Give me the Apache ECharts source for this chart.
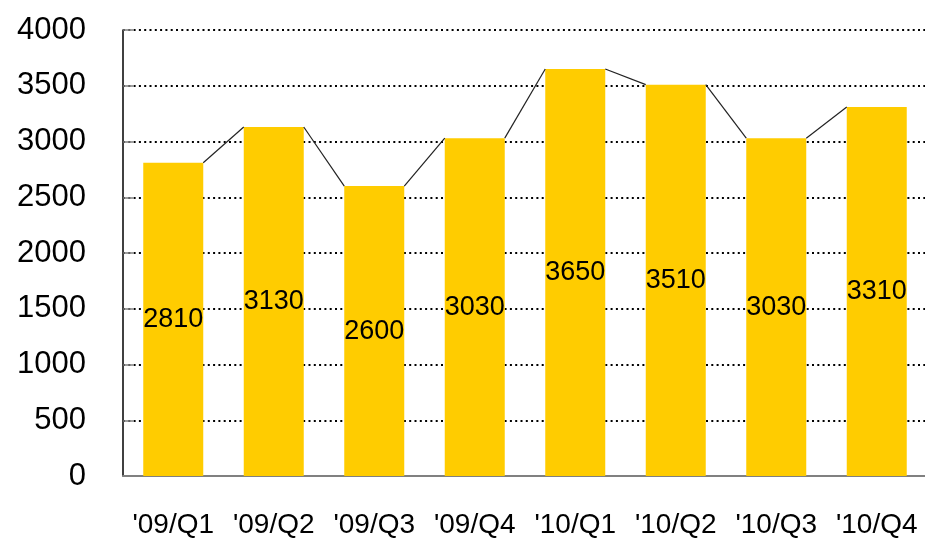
<!DOCTYPE html>
<html>
<head>
<meta charset="utf-8">
<script src="https://cdn.jsdelivr.net/npm/echarts@6/dist/echarts.min.js"></script>
<style>
  html, body { margin: 0; padding: 0; background: #fff; }
  #chart { width: 925px; height: 543px; }
</style>
</head>
<body>
<div id="chart"></div>
<script>
var quarters = ["'09/Q1", "'09/Q2", "'09/Q3", "'09/Q4", "'10/Q1", "'10/Q2", "'10/Q3", "'10/Q4"];
var sales = [2810, 3130, 2600, 3030, 3650, 3510, 3030, 3310];
var yTicks = [0, 500, 1000, 1500, 2000, 2500, 3000, 3500, 4000];

var FONT = "'Liberation Sans Narrow', 'Arial Narrow', 'Liberation Sans', Arial, sans-serif";
var BAR_W = 60;

// segments joining the top right corner of each bar to the top left of the next one
var links = [];
for (var i = 0; i < sales.length - 1; i++) {
  links.push([i, sales[i], sales[i + 1]]);
}

var myChart = echarts.init(document.getElementById("chart"));
myChart.setOption({
  animation: false,
  grid: {
    left: 123,
    right: -2,
    top: 30,
    bottom: 67,
    outerBoundsMode: "none",
    containLabel: false,
  },
  xAxis: {
    type: "category",
    data: quarters,
    axisLine: { lineStyle: { color: "#808080", width: 2 } },
    axisTick: {
      inside: true,
      length: 10,
      lineStyle: { color: "#000", width: 1 },
    },
    axisLabel: {
      interval: 0,
      color: "#000",
      fontFamily: FONT,
      fontSize: 28,
      margin: 35,
    },
  },
  yAxis: {
    type: "value",
    min: yTicks[0],
    max: yTicks[yTicks.length - 1],
    interval: 500,
    axisLine: { show: true, lineStyle: { color: "#000", width: 1.5 } },
    axisTick: {
      show: true,
      inside: true,
      length: 10,
      lineStyle: { color: "#808080", width: 1.5 },
    },
    axisLabel: {
      color: "#000",
      fontFamily: FONT,
      fontSize: 31,
      margin: 37,
      formatter: function (v) {
        return String(v);
      },
    },
    splitLine: {
      lineStyle: { color: "#000", type: [2, 3.3], width: 2 },
    },
  },
  series: [
    {
      type: "bar",
      data: sales,
      barWidth: BAR_W,
      itemStyle: { color: "#FFCC00" },
      label: {
        show: true,
        position: "inside",
        color: "#000",
        fontFamily: FONT,
        fontSize: 27,
      },
      z: 2,
    },
    {
      type: "custom",
      data: links,
      renderItem: function (params, api) {
        var a = api.coord([api.value(0), api.value(1)]);
        var b = api.coord([api.value(0) + 1, api.value(2)]);
        return {
          type: "line",
          shape: {
            x1: a[0] + BAR_W / 2,
            y1: a[1],
            x2: b[0] - BAR_W / 2,
            y2: b[1],
          },
          style: { stroke: "#222", lineWidth: 1.2 },
        };
      },
      z: 3,
    },
  ],
});
</script>
</body>
</html>
